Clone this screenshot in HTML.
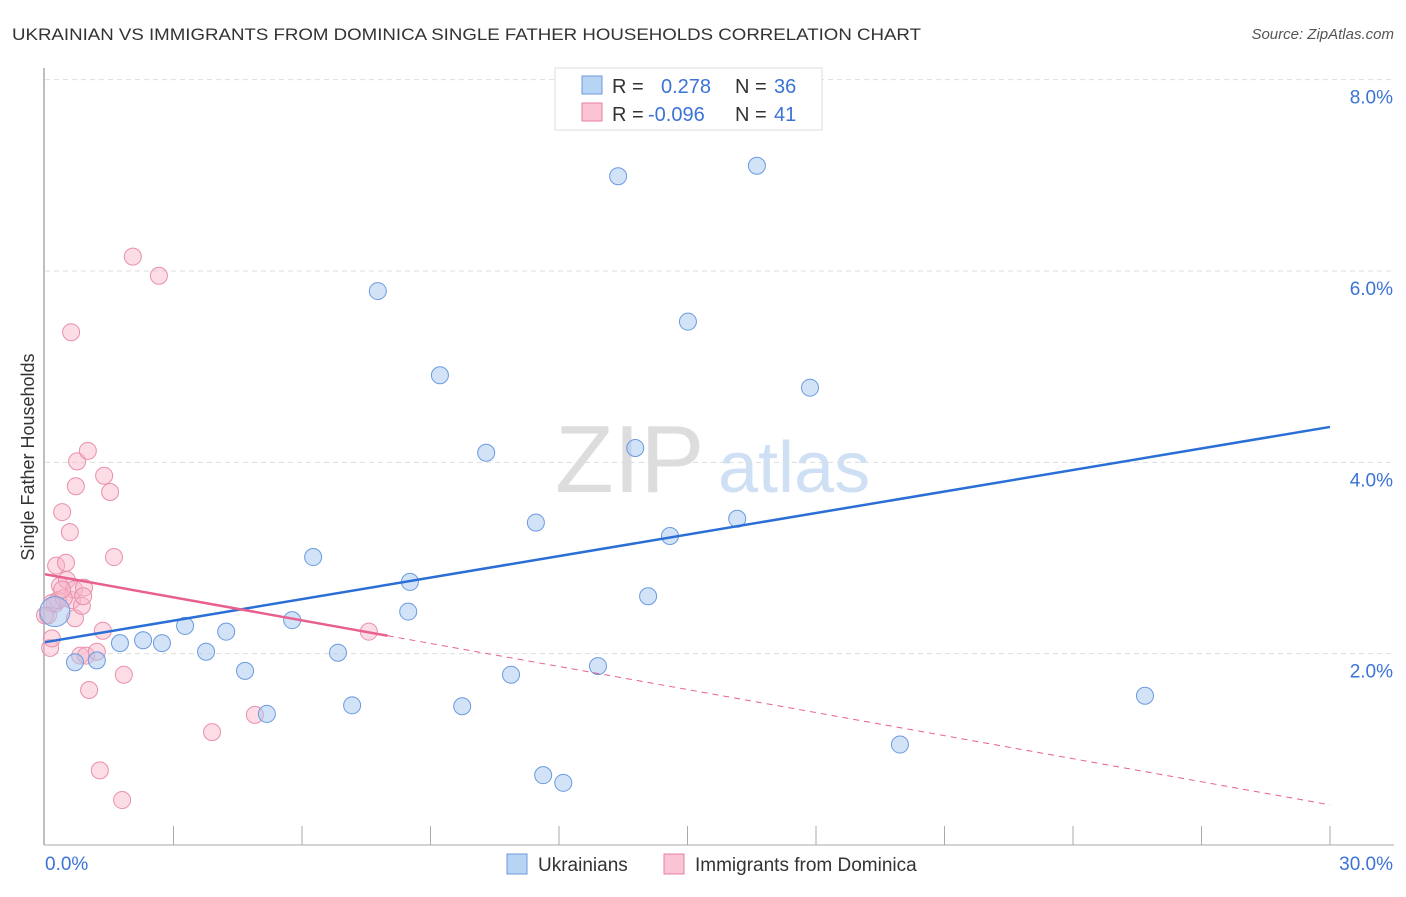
<!DOCTYPE html>
<html><head><meta charset="utf-8"><style>
body{margin:0;background:#fff;font-family:"Liberation Sans",sans-serif;}
svg text{font-family:"Liberation Sans",sans-serif;}
</style></head><body>
<svg id="chart" width="1406" height="892">
<text x="12" y="40" font-size="17" fill="#333" textLength="909" lengthAdjust="spacingAndGlyphs">UKRAINIAN VS IMMIGRANTS FROM DOMINICA SINGLE FATHER HOUSEHOLDS CORRELATION CHART</text>
<text x="1394" y="39" font-size="15" fill="#555" text-anchor="end" font-style="italic">Source: ZipAtlas.com</text>
<text transform="translate(34,457) rotate(-90)" font-size="18" fill="#333" text-anchor="middle">Single Father Households</text>
<text x="555" y="492" font-size="96" fill="#ddd" font-family="Liberation Serif">ZIP</text>
<text x="718" y="492" font-size="72" fill="#cfe0f5">atlas</text>
<g id="grid"></g><g id="axes"></g><g id="pts"></g><g id="trend"></g>
<g>
<rect x="555" y="68" width="267" height="62" fill="#fff" stroke="#ddd"/>
<rect x="582" y="76" width="20" height="18" fill="#b8d4f5" stroke="#6a9ae0"/>
<rect x="582" y="103" width="20" height="18" fill="#fac4d4" stroke="#e87fa0"/>
<text x="612" y="93" font-size="20" fill="#333">R = <tspan fill="#3b73d6" x="661">0.278</tspan><tspan fill="#333" x="735">N = </tspan><tspan fill="#3b73d6" x="774">36</tspan></text>
<text x="612" y="121" font-size="20" fill="#333">R = <tspan fill="#3b73d6" x="648">-0.096</tspan><tspan fill="#333" x="735">N = </tspan><tspan fill="#3b73d6" x="774">41</tspan></text>
</g>
<g>
<rect x="507" y="854" width="20" height="20" fill="#b8d4f5" stroke="#6a9ae0"/>
<text x="538" y="871" font-size="19" fill="#333">Ukrainians</text>
<rect x="664" y="854" width="20" height="20" fill="#fac4d4" stroke="#e87fa0"/>
<text x="695" y="871" font-size="19" fill="#333">Immigrants from Dominica</text>
</g>
</svg>
<script>
const blueX=[0.23,0.70,1.21,1.75,2.29,2.73,3.27,3.76,4.23,4.67,5.18,5.77,6.26,6.84,7.17,7.77,8.48,8.52,9.22,9.74,10.30,10.88,11.46,11.63,12.10,12.91,13.38,13.78,14.08,14.59,15.01,16.16,16.62,17.86,19.96,25.68];
const blueY=[2.44,1.91,1.93,2.11,2.14,2.11,2.29,2.02,2.23,1.82,1.37,2.35,3.01,2.01,1.46,5.79,2.44,2.75,4.91,1.45,4.10,1.78,3.37,0.73,0.65,1.87,6.99,4.15,2.60,3.23,5.47,3.41,7.10,4.78,1.05,1.56];
const pinkX=[0.07,0.12,0.16,0.23,0.26,0.35,0.40,0.49,0.51,0.58,0.61,0.63,0.68,0.70,0.72,0.75,0.82,0.86,0.91,0.96,1.00,1.03,1.21,1.28,1.35,1.38,1.52,1.61,1.80,1.84,2.05,2.66,3.90,4.90,7.56,0.30,0.44,0.89,0.16,0.00,0.40];
const pinkY=[2.40,2.06,2.16,2.52,2.92,2.71,3.48,2.95,2.77,3.27,5.36,2.56,2.67,2.37,3.75,4.01,1.98,2.50,2.69,1.98,4.12,1.62,2.02,0.78,2.24,3.86,3.69,3.01,0.47,1.78,6.15,5.95,1.18,1.36,2.23,2.56,2.58,2.60,2.53,2.40,2.67];
const blueTrend=[2.12,4.37];
const pinkTrend=[2.83,0.42];
const pinkSolidEnd=8.0;
const yTicks=[2,4,6,8];
const xTickLabels=["0.0%","30.0%"];
const NS="http://www.w3.org/2000/svg";
const X=v=>45+v*1285/30, Y=v=>845-v*95.67;
function mk(t,a,p){const e=document.createElementNS(NS,t);for(const k in a)e.setAttribute(k,a[k]);p.appendChild(e);return e;}
const grid=document.getElementById('grid'),axes=document.getElementById('axes'),pts=document.getElementById('pts'),tr=document.getElementById('trend');
yTicks.forEach(t=>{
 const l=mk('line',{x1:45,x2:1394,y1:Y(t),y2:Y(t),stroke:'#ddd','stroke-dasharray':'5,4'},grid);
 
 
 const tx=mk('text',{x:1393,y:Y(t)+24,'font-size':19,fill:'#3b73d6','text-anchor':'end'},axes);
 tx.textContent=t.toFixed(1)+'%';
 
 
});
const ya=mk('line',{x1:44,x2:44,y1:68,y2:845,stroke:'#aaa','stroke-width':1.5},axes);


const xa=mk('line',{x1:44,x2:1394,y1:845,y2:845,stroke:'#aaa'},axes);


for(let i=1;i<=10;i++){const t=mk('line',{x1:X(i*3),x2:X(i*3),y1:826,y2:845,stroke:'#aaa'},axes);
 
 }
const t0=mk('text',{x:45,y:870,'font-size':19,fill:'#3b73d6'},axes);t0.textContent=xTickLabels[0];


const t1=mk('text',{x:1393,y:870,'font-size':19,fill:'#3b73d6','text-anchor':'end'},axes);t1.textContent=xTickLabels[1];


pinkX.forEach((v,i)=>{const c=mk('circle',{cx:X(v),cy:Y(pinkY[i]),r:8.5,fill:'rgba(248,180,200,0.45)',stroke:'#e890aa','stroke-width':1},pts);
 
 });
blueX.forEach((v,i)=>{const c=mk('circle',{cx:X(v),cy:Y(blueY[i]),r:i==0?15:8.5,fill:'rgba(168,200,240,0.5)',stroke:'#6a9ae0','stroke-width':1},pts);
 
 });
const bl=mk('line',{x1:X(0),y1:Y(blueTrend[0]),x2:X(30),y2:Y(blueTrend[1]),stroke:'#2a6fd6','stroke-width':2.5},tr);


const py=x=>pinkTrend[0]+(pinkTrend[1]-pinkTrend[0])*x/30;
const ps=mk('line',{x1:X(0),y1:Y(py(0)),x2:X(pinkSolidEnd),y2:Y(py(pinkSolidEnd)),stroke:'#e8608f','stroke-width':2.5},tr);


const pd=mk('line',{x1:X(pinkSolidEnd),y1:Y(py(pinkSolidEnd)),x2:X(30),y2:Y(py(30)),stroke:'#e8608f','stroke-width':1,'stroke-dasharray':'6,5'},tr);


</script>
</body></html>
